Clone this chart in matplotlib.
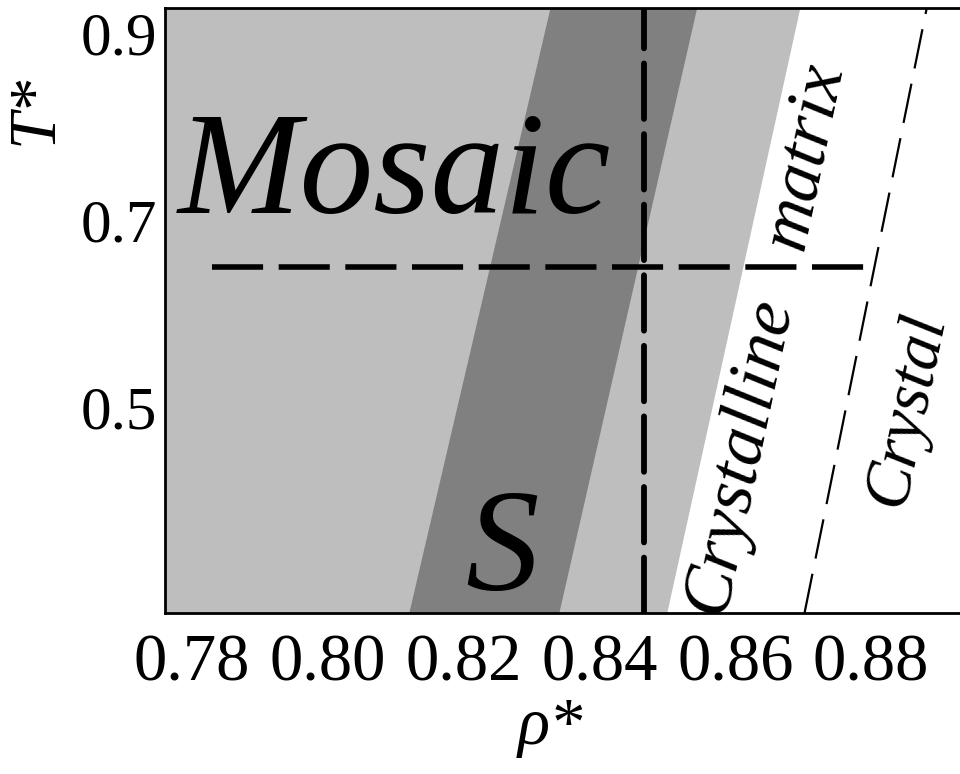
import matplotlib
matplotlib.use("Agg")
import matplotlib.pyplot as plt

# ---- data ----
T_edge = [0.280, 0.927]              # T* at bottom / top of the frame
s_left = [0.8119, 0.8327]            # left edge of the dark "S" band
s_right = [0.8340, 0.8543]           # right edge of the dark "S" band
matrix_edge = [0.8499, 0.8695]       # edge of the grey (mosaic/matrix) region
crystal_line = [0.8702, 0.8882]      # thin dashed crystal boundary
rho_c = 0.8465                       # vertical dashed line
T_c = 0.650                          # horizontal dashed line
T_c_span = [0.7829, 0.8806]          # extent of horizontal dashed line

x_ticks = [0.78, 0.80, 0.82, 0.84, 0.86, 0.88]
x_ticklabels = ["0.78", "0.80", "0.82", "0.84", "0.86", "0.88"]
y_ticks = [0.5, 0.7, 0.9]
y_ticklabels = ["0.5", "0.7", "0.9"]
x_lim = (0.7760, 0.8931)
y_lim = (0.280, 0.927)

LIGHT = "#bebebe"
DARK = "#808080"
SERIF = ["Liberation Serif", "DejaVu Serif"]

fig = plt.figure(figsize=(9.6, 7.74), dpi=100)
ax = fig.add_axes([165 / 960, 1 - 613 / 774, 1 - 165 / 960, (613 - 8) / 774])
ax.set_facecolor("white")

# regions
ax.fill_betweenx(T_edge, [x_lim[0], x_lim[0]], matrix_edge, color=LIGHT, lw=0, zorder=1)
ax.fill_betweenx(T_edge, s_left, s_right, color=DARK, lw=0, zorder=2)

# thin dashed crystal boundary
ax.plot(crystal_line, T_edge, color="black", lw=1.6, dashes=(18, 7), zorder=3)

# thick dashed lines
ax.plot([rho_c, rho_c], T_edge, color="black", lw=4.2, dashes=(9.5, 2.6), zorder=4,
        solid_capstyle="round", dash_capstyle="round")
ax.plot(T_c_span, [T_c, T_c], color="black", lw=4.0, dashes=(9.2, 2.8), zorder=4,
        dash_capstyle="butt")

# region labels
ax.text(0.7779, 0.7078, "Mosaic", fontsize=106, style="italic", family=SERIF,
        ha="left", va="baseline", zorder=5)
ax.text(0.8256, 0.3046, "S", fontsize=106, style="italic", family=SERIF,
        ha="center", va="baseline", zorder=5)
ax.text(0.8607, 0.449, "Crystalline", fontsize=52, style="italic", family=SERIF,
        rotation=78, rotation_mode="anchor", ha="center", va="center", zorder=5)
ax.text(0.8703, 0.7688, "matrix", fontsize=52, style="italic", family=SERIF,
        rotation=78, rotation_mode="anchor", ha="center", va="center", zorder=5)
ax.text(0.8852, 0.497, "Crystal", fontsize=48, style="italic", family=SERIF,
        rotation=78, rotation_mode="anchor", ha="center", va="center", zorder=5,
        clip_on=False)

ax.set_xlim(*x_lim)
ax.set_ylim(*y_lim)
ax.set_xticks(x_ticks)
ax.set_xticklabels(x_ticklabels, fontsize=48, family=SERIF)
ax.set_yticks(y_ticks)
ax.set_yticklabels(y_ticklabels, fontsize=44, family=SERIF)
ax.tick_params(axis="x", length=0, pad=15)
ax.tick_params(axis="y", length=0, pad=6)

for side in ["left", "bottom", "top"]:
    ax.spines[side].set_linewidth(2.0)
    ax.spines[side].set_zorder(6)
ax.spines["right"].set_visible(False)

ax.set_xlabel("ρ*", fontsize=48, style="italic", family=SERIF)
ax.xaxis.label.set(ha="center", va="center")
ax.xaxis.set_label_coords((550 - 165) / 795, -(728 - 613) / 605)
ax.set_ylabel("T*", fontsize=48, style="italic", family=SERIF)
ax.yaxis.label.set(ha="center", va="center", rotation_mode="default")
ax.yaxis.set_label_coords(-(165 - 35) / 795, (613 - 110) / 605)

fig.savefig("out.png", dpi=100)
